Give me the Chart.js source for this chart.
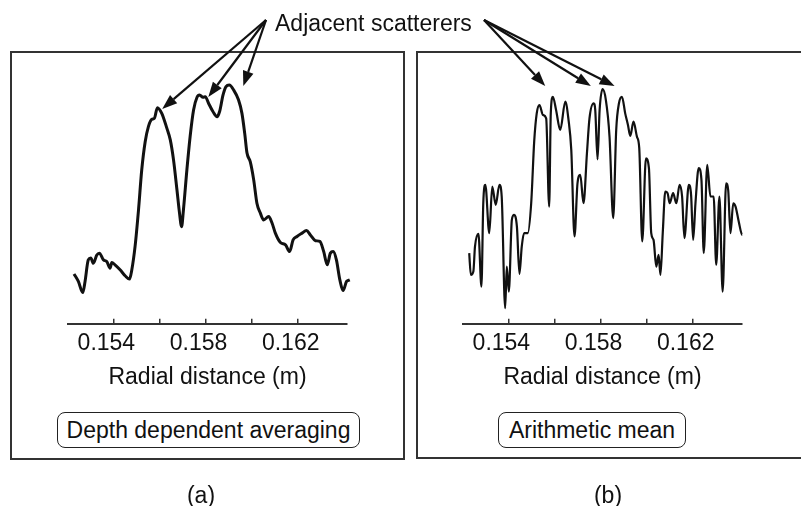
<!DOCTYPE html>
<html>
<head>
<meta charset="utf-8">
<script src="https://cdn.jsdelivr.net/npm/chart.js@4.4.0/dist/chart.umd.min.js"></script>
<style>
  body { margin: 0; background: #fff; font-family: 'Liberation Sans', Arial, Helvetica, sans-serif; color: #111; }
  #page { position: relative; width: 801px; height: 506px; overflow: hidden; background: #fff; }
  .frame { position: absolute; top: 51px; height: 409px; border: 2px solid #333; box-sizing: border-box; }
  .plot { position: absolute; left: 0; top: 0; }
  .tag { position: absolute; top: 412px; height: 36px; border: 1.5px solid #222; border-radius: 8px;
         box-sizing: border-box; font-size: 23px; display: flex; align-items: center; justify-content: center; background: #fff; }
  .sub { position: absolute; top: 481px; width: 60px; font-size: 23px; line-height: 28px; text-align: center; }
  #title { position: absolute; left: 275px; top: 9px; font-size: 23px; line-height: 28px; white-space: nowrap; }
</style>
</head>
<body>
<div id="page">
  <div class="frame" style="left:10px; width:395px;"></div>
  <div class="frame" style="left:416px; width:400px; height:408px;"></div>
  <canvas id="chartA" class="plot" width="801" height="506"></canvas>
  <canvas id="chartB" class="plot" width="801" height="506"></canvas>
  <div id="title">Adjacent scatterers</div>
  <div class="tag" style="left:57px; width:303px;">Depth dependent averaging</div>
  <div class="tag" style="left:498px; width:188px;">Arithmetic mean</div>
  <div class="sub" style="left:171px;">(a)</div>
  <div class="sub" style="left:578px;">(b)</div>
</div>
<script>
// radial distance axis (m)
const X_MIN = 0.15203;
const X_MAX = 0.16414;
const tickValues = [0.154, 0.156, 0.158, 0.160, 0.162];
const labeledTicks = [0.154, 0.158, 0.162];

// (a) depth dependent averaging
const leftR = [0.15229,0.15248,0.15267,0.15277,0.15291,0.15302,0.15313,0.15328,0.15339,0.15357,
  0.15371,0.15386,0.15393,0.15407,0.15429,0.15451,0.15470,0.15480,0.15494,0.15509,
  0.15523,0.15538,0.15552,0.15567,0.15578,0.15591,0.15610,0.15632,0.15647,0.15661,
  0.15676,0.15687,0.15696,0.15704,0.15719,0.15733,0.15748,0.15763,0.15774,0.15789,
  0.15799,0.15813,0.15832,0.15850,0.15861,0.15876,0.15889,0.15903,0.15922,0.15943,
  0.15958,0.15970,0.15980,0.15994,0.16009,0.16023,0.16038,0.16052,0.16074,0.16089,
  0.16103,0.16125,0.16147,0.16165,0.16180,0.16197,0.16219,0.16238,0.16255,0.16277,
  0.16296,0.16313,0.16328,0.16342,0.16354,0.16368,0.16383,0.16397,0.16412,0.16426];
const leftAmp = [19.2,16.3,12.0,16.3,24.6,25.3,23.3,26.5,27.2,24.6,
  24.0,21.4,23.6,22.7,20.8,18.5,17.2,20.8,29.7,43.8,
  59.2,70.1,75.9,78.7,79.1,83.2,81.0,75.3,70.8,63.1,
  51.5,42.6,37.4,43.8,59.2,72.0,82.3,87.2,88.1,87.2,
  87.4,84.9,81.7,79.7,81.7,88.1,91.3,91.9,90.0,86.2,
  81.0,73.3,65.7,62.4,55.4,46.4,42.6,40.0,41.3,38.7,
  34.9,31.3,30.4,27.8,32.3,33.6,34.9,35.9,34.2,32.0,
  31.7,27.8,22.7,27.2,27.8,24.6,16.9,12.8,16.3,16.9];

// (b) arithmetic mean
const rightR = [0.15230,0.15237,0.15248,0.15255,0.15270,0.15283,0.15291,0.15300,0.15317,0.15330,
  0.15345,0.15361,0.15371,0.15386,0.15393,0.15402,0.15415,0.15425,0.15437,0.15448,
  0.15458,0.15468,0.15484,0.15499,0.15512,0.15523,0.15535,0.15550,0.15564,0.15577,
  0.15584,0.15593,0.15607,0.15625,0.15647,0.15661,0.15673,0.15687,0.15700,0.15712,
  0.15726,0.15741,0.15752,0.15770,0.15777,0.15787,0.15796,0.15809,0.15823,0.15839,
  0.15855,0.15868,0.15880,0.15893,0.15907,0.15919,0.15929,0.15943,0.15958,0.15968,
  0.15981,0.15997,0.16010,0.16020,0.16030,0.16042,0.16052,0.16060,0.16070,0.16081,
  0.16091,0.16100,0.16115,0.16129,0.16143,0.16154,0.16164,0.16183,0.16193,0.16202,
  0.16212,0.16226,0.16238,0.16248,0.16263,0.16277,0.16291,0.16302,0.16316,0.16330,
  0.16345,0.16354,0.16364,0.16376,0.16386,0.16400,0.16415,0.16429,0.16433];
const rightAmp = [27.2,18.8,20.1,29.7,34.6,14.3,46.4,53.5,34.9,52.8,
  45.8,53.5,49.0,6.0,22.0,12.4,40.0,41.9,37.4,19.2,
  29.7,34.9,34.9,46.4,70.1,81.0,84.2,80.4,79.1,45.1,
  81.0,87.4,82.3,74.6,85.5,78.5,66.9,33.6,54.1,57.3,
  46.4,65.7,79.1,84.9,82.3,63.3,82.3,90.3,86.2,72.0,
  40.7,74.6,84.9,87.4,81.0,76.5,72.3,77.8,72.0,67.6,
  31.7,63.7,59.9,34.9,32.3,22.0,26.5,18.8,34.9,50.9,
  50.3,46.4,50.3,46.4,53.5,49.0,33.0,53.5,49.6,32.3,
  46.4,59.9,55.4,27.2,61.2,49.0,49.0,22.7,49.0,12.4,
  54.1,51.5,34.9,46.4,45.1,39.3,34.2,38.7,36.2];

// arrow tips (radial distance, amplitude) pointing at the adjacent scatterers
const leftTips = [[0.15612, 82.7], [0.15812, 87.3], [0.15964, 91.5]];
const rightTips = [[0.15560, 91.5], [0.15758, 91.5], [0.15861, 91.5]];

Chart.defaults.font.family = "'Liberation Sans', Arial, Helvetica, sans-serif";
Chart.defaults.color = '#111';

function drawArrow(ctx, x0, y0, x1, y1) {
    const ang = Math.atan2(y1 - y0, x1 - x0);
    const len = 15, half = 5.5;
    const bx = x1 - len * Math.cos(ang);
    const by = y1 - len * Math.sin(ang);
    ctx.beginPath();
    ctx.moveTo(x0, y0);
    ctx.lineTo(bx, by);
    ctx.stroke();
    ctx.beginPath();
    ctx.moveTo(x1, y1);
    ctx.lineTo(bx + half * Math.sin(ang), by - half * Math.cos(ang));
    ctx.lineTo(bx - half * Math.sin(ang), by + half * Math.cos(ang));
    ctx.closePath();
    ctx.fill();
}

// arrows from the shared caption down to the peaks
const arrowPlugin = {
    id: 'scatterArrows',
    afterDatasetsDraw(chart, args, opts) {
        const { ctx } = chart;
        const xs = chart.scales.x, ys = chart.scales.y;
        ctx.save();
        ctx.strokeStyle = '#111';
        ctx.fillStyle = '#111';
        ctx.lineWidth = 2.2;
        opts.tips.forEach(([r, a]) => {
            drawArrow(ctx, opts.tail[0], opts.tail[1], xs.getPixelForValue(r), ys.getPixelForValue(a));
        });
        ctx.restore();
    }
};

function makeChart(id, rs, amps, width, padLeft, padRight, tail, tips) {
    const ctx = document.getElementById(id).getContext('2d');
    return new Chart(ctx, {
        type: 'line',
        data: {
            datasets: [{
                data: rs.map((r, i) => ({ x: r, y: amps[i] })),
                borderColor: '#111',
                borderWidth: width,
                pointRadius: 0,
                fill: false,
                cubicInterpolationMode: 'monotone',
                clip: false
            }]
        },
        options: {
            responsive: false,
            animation: false,
            devicePixelRatio: 1,
            layout: { padding: { left: padLeft, right: padRight, top: 64, bottom: 115 } },
            plugins: {
                legend: { display: false },
                tooltip: { enabled: false },
                scatterArrows: { tail: tail, tips: tips }
            },
            scales: {
                x: {
                    type: 'linear',
                    min: X_MIN,
                    max: X_MAX,
                    afterBuildTicks: (scale) => { scale.ticks = tickValues.map(v => ({ value: v })); },
                    ticks: {
                        autoSkip: false,
                        maxRotation: 0,
                        padding: 11,
                        labelOffset: -7,
                        font: { size: 23 },
                        color: '#111',
                        callback: (v) => labeledTicks.some(t => Math.abs(t - v) < 1e-9) ? v.toFixed(3) : ''
                    },
                    grid: { drawOnChartArea: false, drawTicks: true, tickLength: -5, color: '#333', lineWidth: 1.5 },
                    border: { color: '#333', width: 2 },
                    title: { display: true, text: 'Radial distance (m)', font: { size: 23 }, color: '#111', padding: { top: -5, bottom: 0 } }
                },
                y: { display: false, min: 0, max: 100 }
            }
        },
        plugins: [arrowPlugin]
    });
}

makeChart('chartA', leftR, leftAmp, 3, 68, 454, [266, 20], leftTips);
makeChart('chartB', rightR, rightAmp, 2.2, 463, 59, [484, 20], rightTips);
</script>
</body>
</html>
